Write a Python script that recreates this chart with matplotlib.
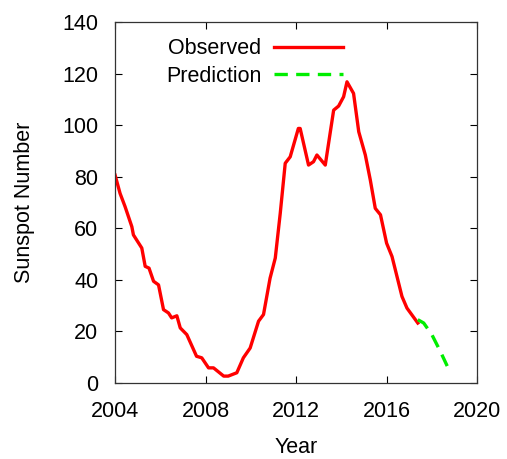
import matplotlib
matplotlib.use('Agg')
import matplotlib.pyplot as plt

plt.rcParams['font.family'] = ['Liberation Sans', 'DejaVu Sans']

# observed sunspot number
obs_year = [2004.0, 2004.22, 2004.44, 2004.74, 2004.81, 2005.18, 2005.33, 2005.5,
            2005.7, 2005.92, 2006.14, 2006.36, 2006.5, 2006.73, 2006.88, 2007.17,
            2007.6, 2007.83, 2008.13, 2008.35, 2008.8, 2009.0, 2009.38, 2009.67,
            2009.97, 2010.34, 2010.56, 2010.85, 2011.08, 2011.3, 2011.52, 2011.74,
            2012.1, 2012.18, 2012.55, 2012.77, 2012.92, 2013.29, 2013.66, 2013.88,
            2014.1, 2014.25, 2014.54, 2014.77, 2015.06, 2015.28, 2015.5, 2015.73,
            2016.0, 2016.24, 2016.68, 2016.9, 2017.38]
obs_ssn = [80.6, 73.5, 68.4, 60.6, 57.4, 52.3, 45.2, 44.5,
           39.4, 38.0, 28.4, 27.1, 25.2, 26.0, 21.3, 18.7,
           10.3, 9.7, 5.8, 5.8, 2.6, 2.6, 3.9, 9.7,
           13.5, 23.9, 26.5, 40.6, 48.4, 65.8, 85.2, 87.7,
           98.7, 98.7, 84.5, 85.8, 88.4, 84.5, 105.8, 107.4,
           111.0, 116.8, 112.3, 97.4, 88.4, 78.7, 67.7, 65.2,
           54.2, 49.0, 33.5, 29.0, 23.2]

# predicted sunspot number
pred_year = [2017.38, 2017.64, 2018.0, 2018.37, 2018.68]
pred_ssn = [24.5, 23.2, 18.7, 12.3, 6.5]

fig = plt.figure(figsize=(5.07, 4.59), dpi=100)
ax = fig.add_axes([0.227, 0.166, 0.714, 0.786])

ax.plot(obs_year, obs_ssn, color='red', lw=2.4, label='Observed')
ax.plot(pred_year, pred_ssn, color='#00ee00', lw=2.4, ls=(0, (4, 2.5)), label='Prediction')

ax.set_xlim(2004, 2020)
ax.set_ylim(0, 140)
ax.set_xticks([2004, 2008, 2012, 2016, 2020])
ax.set_yticks(range(0, 141, 20))
ax.tick_params(direction='in', top=True, right=True, length=5, width=0.8,
               labelsize=15.5, colors='black')
ax.tick_params(axis='x', pad=13)
ax.tick_params(axis='y', pad=12)
for s in ax.spines.values():
    s.set_color('#333333')
    s.set_linewidth(0.9)

ax.set_xlabel('Year', fontsize=15.5, labelpad=11)
ax.set_ylabel('Sunspot Number', fontsize=15.5, labelpad=20)

ax.legend(loc='upper right', bbox_to_anchor=(0.63, 0.955), frameon=False,
          markerfirst=False, fontsize=15.5, handlelength=3.2, handletextpad=0.6,
          labelspacing=0.3, borderpad=0, borderaxespad=0)

fig.savefig('out.png', dpi=100)
